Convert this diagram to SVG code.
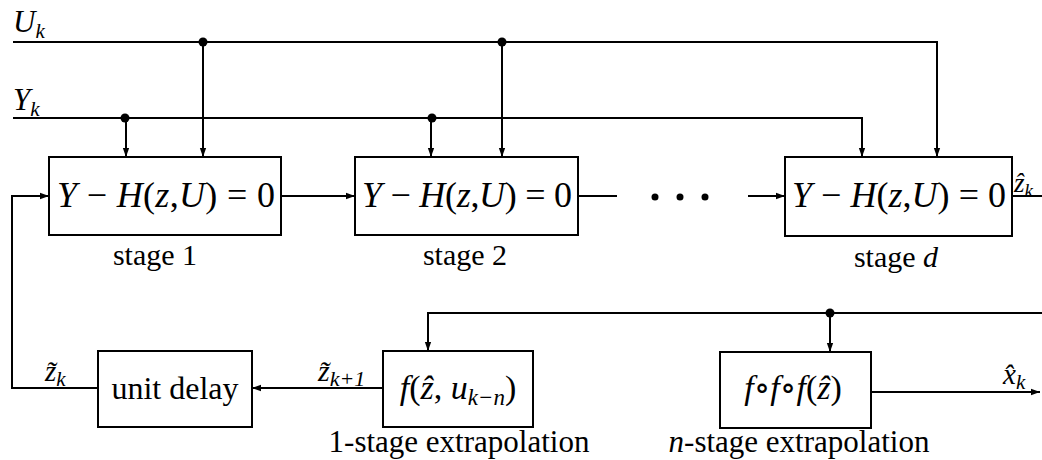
<svg xmlns="http://www.w3.org/2000/svg" width="1042" height="460" viewBox="0 0 1042 460">
<defs>
<marker id="ar" viewBox="0 0 10 10" refX="10" refY="5" markerWidth="9" markerHeight="9" markerUnits="userSpaceOnUse" orient="auto">
<path d="M0,1.5 L10,5 L0,8.5 Z" fill="#000"/>
</marker>
<style>
.ln{fill:none;stroke:#000;stroke-width:2}
.bx{fill:#fff;stroke:#000;stroke-width:2}
text{font-family:'Liberation Serif','DejaVu Serif',serif;fill:#000}
.m{font-size:36px}
.i{font-style:italic}
.lb{font-size:30px}
.s{font-style:italic}
</style>
</defs>
<rect width="1042" height="460" fill="#fff"/>
<g id="connectors">
<path class="ln" d="M13,42 H937 V157" marker-end="url(#ar)"/>
<path class="ln" d="M13,118 H862 V157" marker-end="url(#ar)"/>
<path class="ln" d="M203,42 V157" marker-end="url(#ar)"/>
<path class="ln" d="M502,42 V157" marker-end="url(#ar)"/>
<path class="ln" d="M126,118 V157" marker-end="url(#ar)"/>
<path class="ln" d="M431,118 V157" marker-end="url(#ar)"/>
<circle cx="203" cy="42" r="4.5"/>
<circle cx="502" cy="42" r="4.5"/>
<circle cx="125" cy="118" r="4.5"/>
<circle cx="432" cy="118" r="4.5"/>
<path class="ln" d="M281,196 H355" marker-end="url(#ar)"/>
<path class="ln" d="M578,196 H617"/>
<circle cx="655" cy="197" r="3.5"/>
<circle cx="680" cy="197" r="3.5"/>
<circle cx="705" cy="197" r="3.5"/>
<path class="ln" d="M748,196 H785" marker-end="url(#ar)"/>
<path class="ln" d="M1012,196 H1042"/>
<path class="ln" d="M98,388 H12 V196 H49" marker-end="url(#ar)"/>
<path class="ln" d="M383,388 H252" marker-end="url(#ar)"/>
<path class="ln" d="M1042,313 H428 V351" marker-end="url(#ar)"/>
<path class="ln" d="M830,313 V352" marker-end="url(#ar)"/>
<circle cx="830" cy="313" r="4.5"/>
<path class="ln" d="M871,392 H1040" marker-end="url(#ar)"/>
</g>
<g id="labels">
<text class="s" x="13" y="32" style="font-size:31px">U<tspan dy="6" style="font-size:21px">k</tspan></text>
<text class="s" x="13" y="110" style="font-size:31px">Y<tspan dy="6" style="font-size:21px">k</tspan></text>
<text class="s" x="1014" y="192" style="font-size:27px">ẑ<tspan dy="5" style="font-size:19px">k</tspan></text>
<text class="s" x="45" y="381" style="font-size:29px">z̃<tspan dy="5" style="font-size:21px">k</tspan></text>
<text class="s" x="318" y="381" style="font-size:30px">z̃<tspan dy="5" style="font-size:22px">k+1</tspan></text>
<text class="s" x="1003" y="384" style="font-size:29px">x̂<tspan dy="5" style="font-size:21px">k</tspan></text>
</g>
<g id="stage1">
<rect class="bx" x="49" y="157" width="232" height="78"/>
<text class="m" x="57" y="207" textLength="218"><tspan class="i">Y</tspan> − <tspan class="i">H</tspan>(<tspan class="i">z</tspan>,<tspan class="i">U</tspan>) = 0</text>
<text class="lb" x="155" y="265" text-anchor="middle">stage 1</text>
</g>
<g id="stage2">
<rect class="bx" x="355" y="157" width="223" height="78"/>
<text class="m" x="362" y="207" textLength="210"><tspan class="i">Y</tspan> − <tspan class="i">H</tspan>(<tspan class="i">z</tspan>,<tspan class="i">U</tspan>) = 0</text>
<text class="lb" x="465" y="265" text-anchor="middle">stage 2</text>
</g>
<g id="staged">
<rect class="bx" x="785" y="157" width="227" height="79"/>
<text class="m" x="792" y="207" textLength="214"><tspan class="i">Y</tspan> − <tspan class="i">H</tspan>(<tspan class="i">z</tspan>,<tspan class="i">U</tspan>) = 0</text>
<text class="lb" x="896" y="267" text-anchor="middle">stage <tspan class="i">d</tspan></text>
</g>
<g id="unitdelay">
<rect class="bx" x="98" y="351" width="154" height="76"/>
<text x="175" y="399" text-anchor="middle" style="font-size:32px">unit delay</text>
</g>
<g id="extrap1">
<rect class="bx" x="383" y="351" width="150" height="76"/>
<text x="458" y="399" text-anchor="middle" style="font-size:34px"><tspan class="i">f</tspan>(<tspan class="i">ẑ</tspan>, <tspan class="i">u</tspan><tspan class="i" dy="6" style="font-size:23px">k−n</tspan><tspan dy="-6">)</tspan></text>
<text x="459" y="452" text-anchor="middle" style="font-size:31px">1-stage extrapolation</text>
</g>
<g id="extrapn">
<rect class="bx" x="720" y="352" width="151" height="76"/>
<text x="793" y="399" text-anchor="middle" style="font-size:34px"><tspan class="i">f</tspan>∘<tspan class="i">f</tspan>∘<tspan class="i">f</tspan>(<tspan class="i">ẑ</tspan>)</text>
<text x="799" y="452" text-anchor="middle" style="font-size:31px"><tspan class="i">n</tspan>-stage extrapolation</text>
</g>
</svg>
